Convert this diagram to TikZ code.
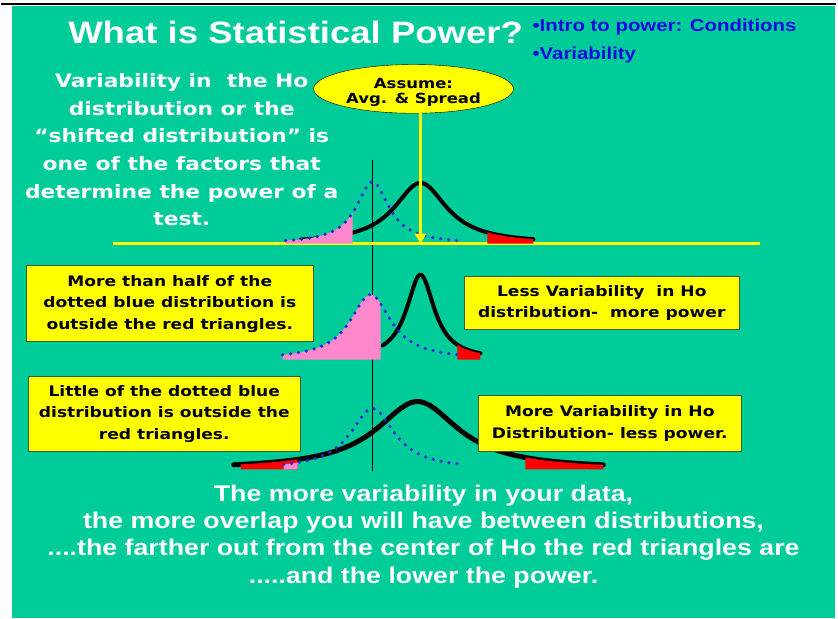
\documentclass[tikz,border=0pt]{standalone}
\usepackage{fontspec}
\setmainfont{Liberation Sans}[FakeStretch=1.18]
\newfontfamily\heavyfont{DejaVu Sans}[FakeStretch=1.18]
\usetikzlibrary{arrows.meta,positioning,shapes.geometric}
\definecolor{slidegreen}{RGB}{0,204,153}
\definecolor{slideyellow}{RGB}{255,255,0}
\definecolor{bulletblue}{RGB}{10,10,225}
\definecolor{dotblue}{RGB}{40,40,215}
\definecolor{tailpink}{RGB}{255,136,204}
\definecolor{boxline}{RGB}{60,90,60}

\tikzset{
  notebox/.style={draw=boxline, fill=slideyellow, inner sep=0pt, align=center,
    font=\heavyfont\bfseries\fontsize{14.5}{21.5}\selectfont},
  hocurve/.style={black, line width=4pt, line cap=round},
  shiftcurve/.style={dotblue, line width=3.6pt, line cap=round, dash pattern=on 0pt off 8pt},
  bullets/.style={bulletblue, inner sep=0pt, align=left, anchor=west, font=\bfseries\fontsize{17.3}{28}\selectfont}
}

\begin{document}
\begin{tikzpicture}[x=1pt, y=-1pt,
  declare function={bell(\x,\m,\h,\w)=\h/(1+((\x-\m)/\w)^2);}]
  % slide background
  \fill[white] (0,0) rectangle (838,619);
  \fill[slidegreen] (11,6) rectangle (835,619);
  \draw[black, line width=2pt] (0,4.5) -- (836,4.5);

  % heading and bullets
  \node[white, inner sep=0pt, anchor=base, font=\bfseries\fontsize{31}{36}\selectfont]
    (title) at (295,44) {What is Statistical Power?};
  \node[bullets] (topics) at (532,41.5) {•Intro to power: Conditions\\•Variability};

  \node[white, inner sep=0pt, align=center, font=\heavyfont\bfseries\fontsize{18.5}{27.6}\selectfont]
    (factor) at (181,150) {Variability in \ the Ho\\distribution or the\\“shifted distribution” is\\one of the factors that\\determine the power of a\\test.};

  % vertical reference line
  \draw[black, line width=0.9pt] (372,160) -- (372,472);

  % first pair of curves
  \draw[slideyellow, line width=3pt] (112,244) -- (760,244);
  \draw[hocurve] plot[domain=300:533, samples=90] (\x,{244-bell(\x,420,61,32)});
  \fill[red] plot[domain=487:533, samples=20] (\x,{244-bell(\x,420,61,32)}) -- (533,244) -- (487,244) -- cycle;
  \fill[tailpink] plot[domain=285:352, samples=30] (\x,{244-bell(\x,372,62,20)}) -- (352,244) -- (285,244) -- cycle;
  \draw[shiftcurve] plot[domain=285:458, samples=120] (\x,{244-bell(\x,372,62,20)});

  \node[ellipse, draw=black, fill=slideyellow, minimum width=200pt, minimum height=48pt, inner sep=0pt,
    align=center, font=\heavyfont\bfseries\fontsize{14}{14.5}\selectfont]
    (assume) at (413,89) {\rule{0pt}{17pt}Assume:\\Avg. \& Spread};
  \coordinate (arrowend) at (420,244);
  \draw[slideyellow, line width=3pt, -{Triangle[length=10pt, width=11pt]}] (assume.south -| arrowend) -- (arrowend);

  % second pair: less variability
  \draw[hocurve] plot[domain=382:480, samples=90] (\x,{360-bell(\x,420,85,17)});
  \fill[red] plot[domain=457:480, samples=15] (\x,{360-bell(\x,420,85,17)}) -- (480,360) -- (457,360) -- cycle;
  \fill[tailpink] plot[domain=282:380, samples=40] (\x,{360-bell(\x,370,65,25)}) -- (380,360) -- (282,360) -- cycle;
  \draw[shiftcurve] plot[domain=282:458, samples=120] (\x,{360-bell(\x,370,65,25)});

  % third pair: more variability
  \draw[hocurve, line width=5pt] plot[domain=233:603, samples=120] (\x,{470-bell(\x,417,68,50)});
  \fill[red] plot[domain=240:297, samples=20] (\x,{470-bell(\x,417,68,50)}) -- (297,470) -- (240,470) -- cycle;
  \fill[red] plot[domain=525:603, samples=20] (\x,{470-bell(\x,417,68,50)}) -- (603,470) -- (525,470) -- cycle;
  \fill[tailpink] plot[domain=283:297, samples=10] (\x,{470-bell(\x,372,61,27)}) -- (297,470) -- (283,470) -- cycle;
  \draw[shiftcurve] plot[domain=283:458, samples=120] (\x,{470-bell(\x,372,61,27)});

  % notes
  \node[notebox, minimum width=288pt, minimum height=76pt] (morehalf) at (169,304)
    {More than half of the\\dotted blue distribution is\\outside the red triangles.};
  \node[notebox, minimum width=275pt, minimum height=53pt] (lessvar) at (601.5,303.5)
    {Less Variability \ in Ho\\distribution- \ more power};
  \node[notebox, minimum width=273pt, minimum height=75pt] (little) at (163.5,414.5)
    {Little of the dotted blue\\distribution is outside the\\red triangles.};
  \node[notebox, minimum width=263pt, minimum height=56pt] (morevar) at (609.5,424)
    {More Variability in Ho\\Distribution- less power.};

  \node[white, inner sep=0pt, align=center, font=\bfseries\fontsize{22.7}{27.4}\selectfont]
    (summary) at (423,537) {The more variability in your data,\\the more overlap you will have between distributions,\\....the farther out from the center of Ho the red triangles are\\.....and the lower the power.};
\end{tikzpicture}
\end{document}
